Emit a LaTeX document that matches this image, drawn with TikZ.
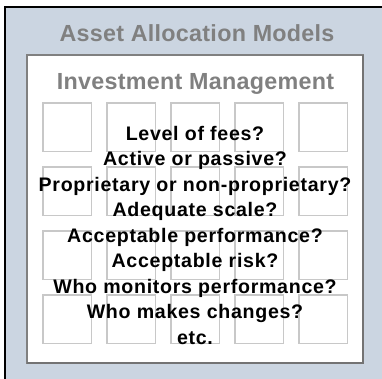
\documentclass[tikz,border=0pt]{standalone}
\usepackage{fontspec}
\setmainfont{Liberation Sans}
\newfontfamily\titlefont[LetterSpace=1.2]{Liberation Sans}
\newfontfamily\askfont[LetterSpace=3.6]{Liberation Sans}
\usetikzlibrary{positioning}

\definecolor{panelblue}{RGB}{203,213,225}
\definecolor{titlegray}{RGB}{128,128,128}
\definecolor{cellgray}{RGB}{200,200,200}

\begin{document}
\begin{tikzpicture}[x=1pt,y=-1pt,
    title/.style={font=\titlefont\bfseries\fontsize{23.3}{28}\selectfont,text=titlegray,inner sep=0pt},
    cell/.style={draw=cellgray,line width=1.3pt,fill=white}]
  \useasboundingbox (0,0) rectangle (382,379);
  \clip (0,0) rectangle (382,379);
  % Outer panel
  \draw[black,line width=1.5pt,fill=panelblue] (5,7) rectangle (400,400);
  \node[title,anchor=base] (models) at (197,41.5) {Asset Allocation Models};
  % Inner panel with a darker lower/right edge
  \draw[titlegray,line width=1.3pt,fill=white] (27,55) rectangle (363,363);
  \draw[gray!90!black,line width=1.8pt] (363.3,55) -- (363.3,363.3) -- (27,363.3);
  \node[title,anchor=base] (mgmt) at (195.5,90) {Investment Management};
  % Grid of empty cells
  \foreach \col in {0,...,4}
    \foreach \row in {0,...,3}
      \draw[cell] ({43+64*\col},{103+64*\row}) rectangle ++(48.5,48.5);
  % Questions on top of the grid
  \node[font=\askfont\bfseries\fontsize{19.6}{25.5}\selectfont,align=center,inner sep=0pt]
    (questions) at (195,235) {Level of fees?\\Active or passive?\\Proprietary or non-proprietary?\\
    Adequate scale?\\Acceptable performance?\\Acceptable risk?\\Who monitors performance?\\
    Who makes changes?\\etc.};
\end{tikzpicture}
\end{document}
